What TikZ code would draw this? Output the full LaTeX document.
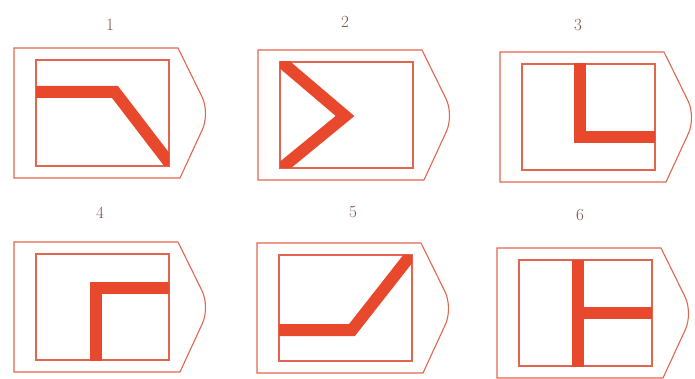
\documentclass[tikz,border=0pt]{standalone}
\usetikzlibrary{positioning}
\definecolor{tagred}{HTML}{E2654F}
\definecolor{barred}{HTML}{E8492C}
\definecolor{numgray}{HTML}{7E4E46}

\begin{document}
\begin{tikzpicture}[x=1pt,y=-1pt,
  outl/.style={draw=tagred,line width=1.1pt},
  bar/.style={draw=barred,line width=12pt},
  num/.style={text=numgray,font=\fontsize{17}{20}\selectfont},
  tag/.pic={
    \draw[outl] (0,0) -- (164,0) [rounded corners=18pt]-- (196,65) [sharp corners]-- (166,130) -- (0,130) -- cycle;
    \draw[outl] (22,12) rectangle (155,118);
    \begin{scope}
      \clip (22,12) rectangle (155,118);
      \draw[bar] #1;
    \end{scope}
  }]
\useasboundingbox (0,0) rectangle (695,379);
% top row
\begin{scope}[shift={(14,48)}]
  \pic {tag={(22,44) -- (101,44) -- (160,121)}};
  \node[num] (n1) at (96,-23) {1};
\end{scope}
\begin{scope}[shift={(258,50)}]
  \pic {tag={(20,9) -- (87,66) -- (20,121)}};
  \node[num] (n2) at (87,-28) {2};
\end{scope}
\begin{scope}[shift={(500,52)}]
  \pic {tag={(80,10) -- (80,85) -- (158,85)}};
  \node[num] (n3) at (78,-27) {3};
\end{scope}
% bottom row
\begin{scope}[shift={(14,242)}]
  \pic {tag={(82,122) -- (82,46) -- (158,46)}};
  \node[num] (n4) at (86,-29) {4};
\end{scope}
\begin{scope}[shift={(257,243)}]
  \pic {tag={(18,87) -- (95,87) -- (157,8)}};
  \node[num] (n5) at (96,-31) {5};
\end{scope}
\begin{scope}[shift={(497,248)}]
  \pic {tag={(81,10) -- (81,120) (81,65) -- (158,65)}};
  \node[num] (n6) at (83,-33) {6};
\end{scope}
\end{tikzpicture}
\end{document}
